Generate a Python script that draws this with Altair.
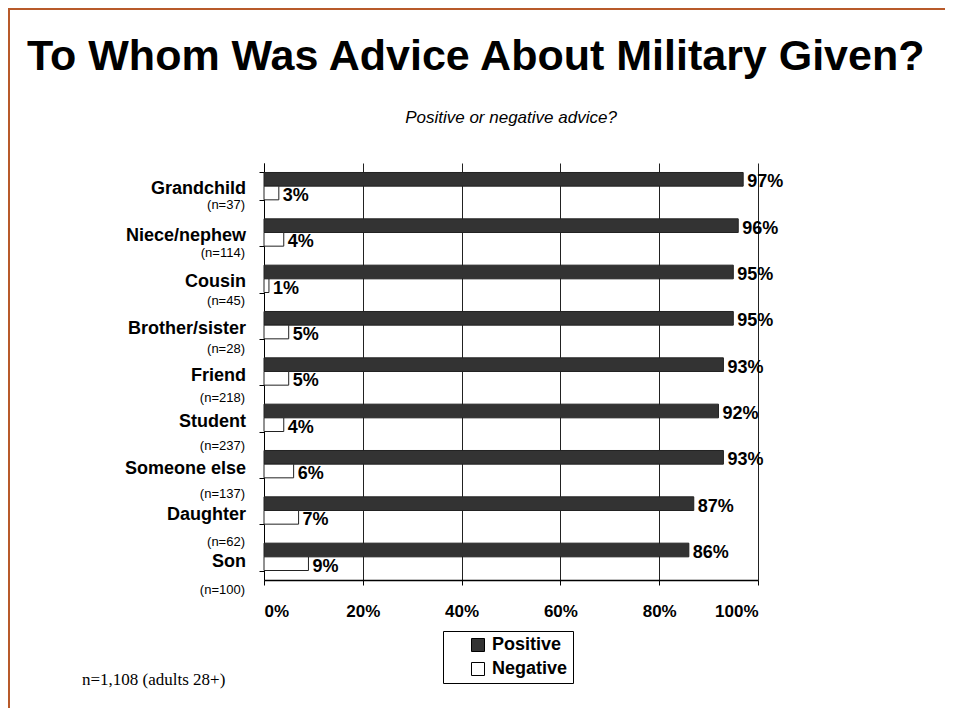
import altair as alt
import pandas as pd

# ---- data ----
categories = ["Grandchild", "Niece/nephew", "Cousin", "Brother/sister", "Friend",
              "Student", "Someone else", "Daughter", "Son"]
n_labels = ["(n=37)", "(n=114)", "(n=45)", "(n=28)", "(n=218)",
            "(n=237)", "(n=137)", "(n=62)", "(n=100)"]
positive = [0.97, 0.96, 0.95, 0.95, 0.93, 0.92, 0.93, 0.87, 0.86]
negative = [0.03, 0.04, 0.01, 0.05, 0.05, 0.04, 0.06, 0.07, 0.09]
series = ["Positive", "Negative"]
x_ticks = [0, 0.2, 0.4, 0.6, 0.8, 1.0]

TITLE = "To Whom Was Advice About Military Given?"
SUBTITLE = "Positive or negative advice?"
FOOTNOTE = "n=1,108 (adults 28+)"

rows = []
for c, p, n in zip(categories, positive, negative):
    rows.append({"category": c, "series": "Positive", "value": p})
    rows.append({"category": c, "series": "Negative", "value": n})
df = pd.DataFrame(rows)
lab_df = pd.DataFrame({"category": categories, "n": n_labels})

W, H = 494, 417
PAD_L, PAD_T = 256, 155
TOTAL_W, TOTAL_H = 937, 700
FONT = "Liberation Sans"

y_band = alt.Y("category:N", sort=categories,
               scale=alt.Scale(domain=categories, paddingInner=0.41, paddingOuter=0.205),
               axis=alt.Axis(labels=False, title=None, ticks=True, tickBand="extent",
                             tickSize=5, tickColor="black", domainColor="black",
                             domainWidth=1, grid=False))
y_off = alt.YOffset("series:N", sort=series,
                    scale=alt.Scale(domain=series, paddingInner=0, paddingOuter=0))
x_enc = alt.X("value:Q", scale=alt.Scale(domain=[0, 1]),
              axis=alt.Axis(values=x_ticks, format=".0%", title=None,
                            labelFontSize=17, labelFontWeight="bold", labelColor="black",
                            labelFont=FONT, labelPadding=18, tickSize=5, tickColor="black",
                            domainColor="black", domainWidth=1.5,
                            grid=True, gridColor="#222222", gridWidth=1))

bars = alt.Chart(df).mark_bar(stroke="#222222", strokeWidth=1).encode(
    x=x_enc,
    y=y_band,
    yOffset=y_off,
    color=alt.Color("series:N", sort=series,
                    scale=alt.Scale(domain=series, range=["#333333", "#ffffff"]),
                    legend=alt.Legend(orient="none", legendX=179, legendY=468, title=None,
                                      strokeColor="black", fillColor="white", padding=5,
                                      symbolType="square", symbolSize=169,
                                      symbolStrokeColor="black", symbolStrokeWidth=1,
                                      symbolOffset=21, labelFont=FONT, labelFontSize=18,
                                      labelFontWeight="bold", labelColor="black",
                                      rowPadding=6, labelOffset=5)),
)

values = alt.Chart(df).mark_text(align="left", baseline="middle", dx=4, dy=3,
                                 font=FONT, fontSize=18, fontWeight="bold",
                                 color="black").encode(
    x=alt.X("value:Q"),
    y=alt.Y("category:N", sort=categories),
    yOffset=alt.YOffset("series:N", sort=series),
    text=alt.Text("value:Q", format=".0%"),
)

main = alt.layer(bars, values)

names = alt.Chart(lab_df).mark_text(align="right", baseline="middle", font=FONT,
                                    fontSize=18, fontWeight="bold", color="black").encode(
    x=alt.value(-18),
    y=alt.Y("category:N", sort=categories,
            scale=alt.Scale(type="point", domain=categories, range=[26, 399], padding=0),
            axis=None),
    text="category:N",
)

nlab = alt.Chart(lab_df).mark_text(align="right", baseline="middle", font=FONT,
                                   fontSize=13, color="black").encode(
    x=alt.value(-19),
    y=alt.Y("category:N", sort=categories,
            scale=alt.Scale(type="point", domain=categories, range=[42, 427], padding=0),
            axis=None),
    text="n:N",
)

one = pd.DataFrame({"t": [0]})

title = alt.Chart(pd.DataFrame({"t": [TITLE]})).mark_text(
    align="left", baseline="alphabetic", font=FONT, fontSize=43, fontWeight="bold",
    color="black").encode(x=alt.value(27 - 264), y=alt.value(70 - 163), text="t:N")

subtitle = alt.Chart(pd.DataFrame({"t": [SUBTITLE]})).mark_text(
    align="center", baseline="middle", font=FONT, fontSize=17, fontStyle="italic",
    color="black").encode(x=alt.value(511 - 264), y=alt.value(118 - 163), text="t:N")

foot = alt.Chart(pd.DataFrame({"t": [FOOTNOTE]})).mark_text(
    align="left", baseline="middle", font="Liberation Serif", fontSize=17,
    color="black").encode(x=alt.value(82 - 264), y=alt.value(680 - 163), text="t:N")

border_color = "#B85A2A"
top_border = alt.Chart(one).mark_rule(color=border_color, strokeWidth=2).encode(
    x=alt.value(-PAD_L), x2=alt.value(TOTAL_W - PAD_L), y=alt.value(-PAD_T + 1))
left_border = alt.Chart(one).mark_rule(color=border_color, strokeWidth=2).encode(
    x=alt.value(-PAD_L + 1), y=alt.value(-PAD_T), y2=alt.value(TOTAL_H - PAD_T))

chart = alt.layer(main, names, nlab, title, subtitle, foot, top_border, left_border).resolve_scale(
    y="independent"
).properties(
    width=W, height=H,
    autosize=alt.AutoSizeParams(type="none"),
    padding={"left": PAD_L, "top": PAD_T, "right": TOTAL_W - PAD_L - W,
             "bottom": TOTAL_H - PAD_T - H},
    background="white",
).configure_view(stroke=None)

chart.save("out.html", embed_options={"renderer": "svg", "actions": False})
